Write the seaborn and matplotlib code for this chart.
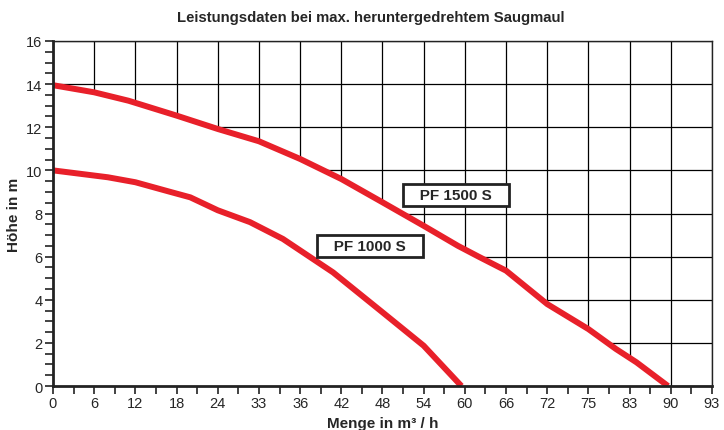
import numpy as np
import pandas as pd
import matplotlib
matplotlib.use("Agg")
import matplotlib.pyplot as plt
import seaborn as sns
from matplotlib.ticker import MultipleLocator

# Values (flow in m³/h, head in m)
q_1500 = [0, 6, 11, 18, 24, 30, 36, 42, 48, 54, 59, 62, 66, 72, 78, 82, 85, 89.6]
h_1500 = [13.95, 13.62, 13.23, 12.54, 11.92, 11.35, 10.53, 9.6, 8.52, 7.43, 6.5, 6.0, 5.35, 3.8, 2.64, 1.72, 1.1, 0]
q_1000 = [0, 8, 12, 17, 20, 22, 24, 28.7, 33.5, 40.8, 48, 54, 59.5]
h_1000 = [10.0, 9.68, 9.45, 9.01, 8.75, 8.45, 8.15, 7.6, 6.82, 5.27, 3.42, 1.87, 0]

x_ticks = [0, 6, 12, 18, 24, 30, 36, 42, 48, 54, 60, 66, 72, 78, 84, 90, 96]
x_tick_labels = ["0", "6", "12", "18", "24", "33", "36", "42", "48", "54", "60", "66", "72", "75", "83", "90", "93"]
y_ticks = [0, 2, 4, 6, 8, 10, 12, 14, 16]

labels = ["PF 1500 S", "PF 1000 S"]
label_pos = [(58.7, 8.86), (46.2, 6.49)]

df = pd.concat([
    pd.DataFrame({"Menge": q_1500, "Höhe": h_1500, "Pumpe": labels[0]}),
    pd.DataFrame({"Menge": q_1000, "Höhe": h_1000, "Pumpe": labels[1]}),
])

sns.set_style("ticks")
plt.rcParams["font.family"] = ["Liberation Sans", "DejaVu Sans"]

fig = plt.figure(figsize=(7.24, 4.31), dpi=100)
ax = fig.add_axes([0.0732, 0.102, 0.9102, 0.8006])

# grid, hidden below the upper curve by a white fill
ax.set_axisbelow(True)
ax.grid(True, which="major", color="black", linewidth=0.9)
ax.fill_between(q_1500, h_1500, 0, color="white", zorder=1, linewidth=0)

red = "#e8202a"
sns.lineplot(data=df, x="Menge", y="Höhe", hue="Pumpe", sort=False,
             palette=[red, red], linewidth=4.3, legend=False, ax=ax, zorder=2)
for line in ax.get_lines():
    line.set_solid_capstyle("butt")
    line.set_solid_joinstyle("round")

for txt, (lx, ly) in zip(labels, label_pos):
    ax.text(lx, ly, "   " + txt + "   ", ha="center", va="center", fontsize=11, fontweight="bold", zorder=4,
            bbox=dict(boxstyle="square,pad=0.28", facecolor="white", edgecolor="#222222", linewidth=2))

ax.set_xlim(0, 96)
ax.set_ylim(0, 16)
ax.set_xticks(x_ticks)
ax.set_xticklabels(x_tick_labels)
ax.set_yticks(y_ticks)
ax.xaxis.set_minor_locator(MultipleLocator(3))
ax.yaxis.set_minor_locator(MultipleLocator(0.5))
ax.tick_params(which="both", direction="out", length=6, width=1.2, color="#222222",
               labelsize=10.5, pad=1.5)

for side in ["left", "bottom"]:
    ax.spines[side].set_linewidth(2)
    ax.spines[side].set_color("#222222")
for side in ["top", "right"]:
    ax.spines[side].set_linewidth(1)
    ax.spines[side].set_color("#222222")

ax.set_xlabel("Menge in m³ / h", fontsize=11, fontweight="bold", labelpad=4)
ax.set_ylabel("Höhe in m", fontsize=11, fontweight="bold", labelpad=4)

fig.text(0.512, 0.958, "Leistungsdaten bei max. heruntergedrehtem Saugmaul",
         ha="center", va="center", fontsize=10.7, fontweight="bold")

fig.savefig("out.png", dpi=100)
